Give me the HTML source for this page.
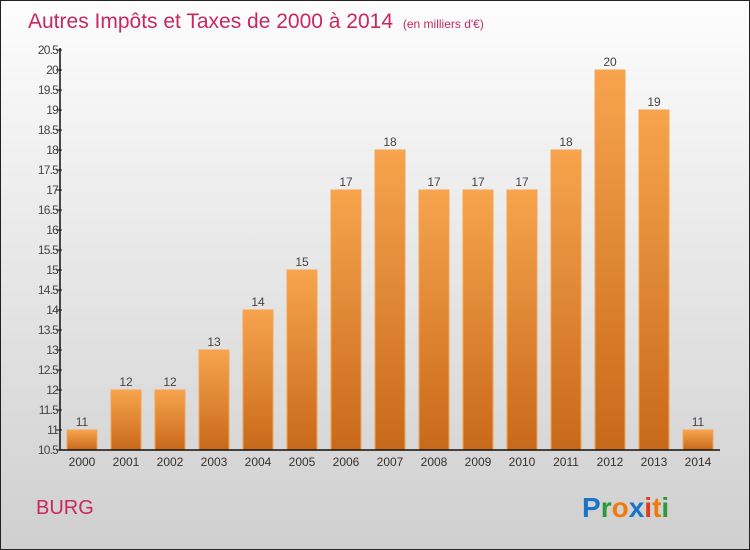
<!DOCTYPE html>
<html><head><meta charset="utf-8"><style>
body{margin:0;width:750px;height:550px;overflow:hidden}
svg{display:block;font-family:"Liberation Sans",sans-serif}
</style></head><body>
<svg id="chart" width="750" height="550" viewBox="0 0 750 550">
<defs>
<linearGradient id="bg" x1="0" y1="0" x2="0" y2="1"><stop offset="0" stop-color="#fdfdfd"/><stop offset="1" stop-color="#cfcfcf"/></linearGradient>
<linearGradient id="bar" x1="0" y1="0" x2="0" y2="1"><stop offset="0" stop-color="#f7a44d"/><stop offset="1" stop-color="#c8691b"/></linearGradient>
</defs>
<rect x="0.5" y="0.5" width="749" height="549" fill="url(#bg)" stroke="#222"/>
<text x="28" y="28" font-size="21" fill="#c8285e">Autres Impôts et Taxes de 2000 à 2014 <tspan font-size="12" dx="4">(en milliers d'€)</tspan></text>
<g id="bars"></g>
<g id="axes"></g>
<text x="36" y="514" font-size="20" fill="#c8285e">BURG</text>
<g font-size="28" font-weight="bold" font-family="'Liberation Sans',sans-serif">
<text x="582" y="517"><tspan fill="#1a74c8">P</tspan><tspan fill="#2a9a3a">r</tspan><tspan fill="#f07a10">o</tspan><tspan fill="#1a74c8">x</tspan><tspan fill="#e03a1a">i</tspan><tspan fill="#f07a10">t</tspan><tspan fill="#2a9a3a">i</tspan></text>
</g>
</svg>
<script>
const years=["2000","2001","2002","2003","2004","2005","2006","2007","2008","2009","2010","2011","2012","2013","2014"];
const values=[11,12,12,13,14,15,17,18,17,17,17,18,20,19,11];
const ticks=[10.5,11,11.5,12,12.5,13,13.5,14,14.5,15,15.5,16,16.5,17,17.5,18,18.5,19,19.5,20,20.5];
const NS="http://www.w3.org/2000/svg";
const y=v=>450-(v-10.5)*40;
const x=i=>82+i*44;
function mk(t,a,p){const e=document.createElementNS(NS,t);for(const k in a)e.setAttribute(k,a[k]);p.appendChild(e);return e;}
const gb=document.getElementById('bars'),ga=document.getElementById('axes');
values.forEach((v,i)=>{
 const r=mk('rect',{x:x(i)-15,y:y(v),width:30,height:450-y(v),fill:'url(#bar)',stroke:'#f5a553','stroke-width':1},gb);
 
 
 const t=mk('text',{x:x(i),y:y(v)-4,'text-anchor':'middle','font-size':12,fill:'#444'},gb);
 t.textContent=v;
 
 
 const l=mk('text',{x:x(i),y:466,'text-anchor':'middle','font-size':12,fill:'#333'},ga);
 l.textContent=years[i];
 
 
});
const ax=mk('path',{d:'M60,48V450H720',stroke:'#111','stroke-width':1.5,fill:'none'},ga);


ticks.forEach(v=>{
 mk('line',{x1:56,x2:62,y1:y(v),y2:y(v),stroke:'#111'},ga);
 const t=mk('text',{x:58,y:y(v)+4,'text-anchor':'end','font-size':12,'letter-spacing':'-0.8',fill:'#444'},ga);
 t.textContent=v;
 
 
});
</script>
</body></html>
